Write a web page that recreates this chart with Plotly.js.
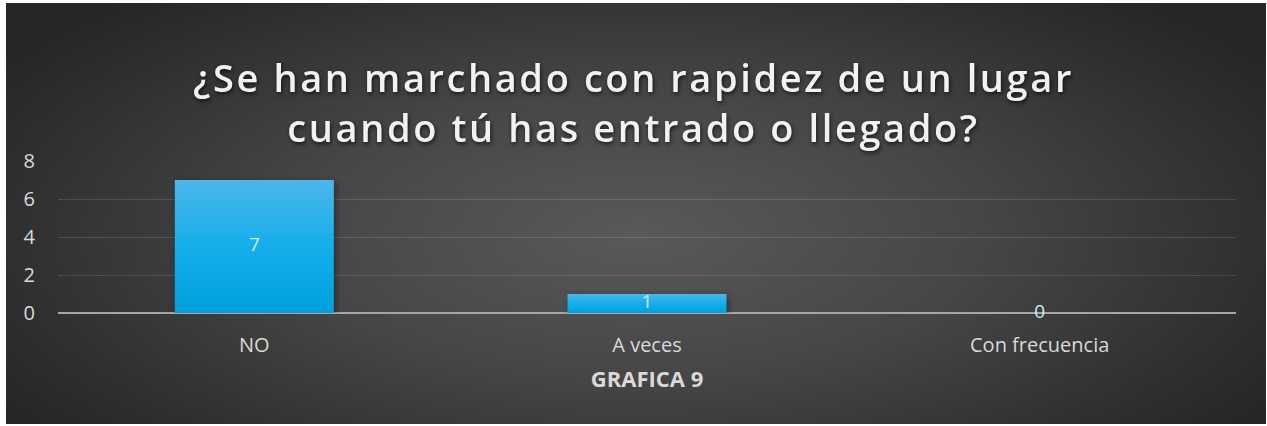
<!DOCTYPE html>
<html>
<head>
<meta charset="utf-8">
<script src="https://cdn.plot.ly/plotly-3.0.1.min.js"></script>
<style>
  html, body { margin: 0; padding: 0; background: #ffffff; }
  #bg {
    position: absolute; left: 6px; top: 3px; width: 1260px; height: 421px;
    background: radial-gradient(ellipse 60% 75% at 50% 55%, #595959 0%, #464646 45%, #2e2e2e 85%, #262626 100%);
  }
  #chart { position: absolute; left: 0; top: 0; width: 1267px; height: 426px; }
  .gtitle { letter-spacing: 2.6px; filter: drop-shadow(1px 2px 2px rgba(0,0,0,0.65)); }
</style>
</head>
<body>
<div id="bg"></div>
<div id="chart"></div>
<script>
const categories = ["NO", "A veces", "Con frecuencia"];
const values = [7, 1, 0];
const yTicks = [0, 2, 4, 6, 8];
const chartTitle = "¿Se han marchado con rapidez de un lugar<br>cuando tú has entrado o llegado?";
const xTitle = "GRAFICA 9";

const FONT = "Open Sans, Noto Sans, sans-serif";

const barTrace = {
  type: "bar",
  x: categories,
  y: values,
  width: 0.405,
  marker: { color: "#1aabe5", line: { width: 0 } },
  hoverinfo: "skip",
  showlegend: false
};

const labelTrace = {
  type: "scatter",
  mode: "text",
  x: categories,
  y: values.map(v => v / 2),
  text: values.map(v => String(v)),
  textposition: "middle center",
  textfont: { family: FONT, size: 19, color: "#cfe9f7" },
  hoverinfo: "skip",
  showlegend: false,
  cliponaxis: false
};

const layout = {
  width: 1267,
  height: 426,
  paper_bgcolor: "rgba(0,0,0,0)",
  plot_bgcolor: "rgba(0,0,0,0)",
  margin: { l: 58, r: 31, t: 161, b: 113 },
  font: { family: FONT, color: "#d9d9d9", size: 20 },
  title: {
    text: chartTitle,
    font: { family: FONT, size: 38, color: "#f2f2f2", weight: 600 },
    x: 0.5,
    xanchor: "center",
    y: 0.783,
    yanchor: "middle"
  },
  xaxis: {
    type: "category",
    range: [-0.5, 2.5],
    showgrid: false,
    showline: false,
    zeroline: false,
    ticks: "",
    ticklabelstandoff: 18,
    tickfont: { family: FONT, size: 20, color: "#d9d9d9" },
    title: {
      text: "<b>" + xTitle + "</b>",
      font: { family: FONT, size: 22, color: "#d9d9d9" },
      standoff: 14
    },
    fixedrange: true
  },
  yaxis: {
    range: [0, 8],
    tickvals: yTicks,
    ticktext: yTicks.map(String),
    showgrid: true,
    gridcolor: "rgba(255,255,255,0.13)",
    gridwidth: 1,
    zeroline: true,
    zerolinecolor: "#a6a6a6",
    zerolinewidth: 2,
    showline: false,
    ticks: "",
    ticklabelstandoff: 22,
    tickfont: { family: FONT, size: 20, color: "#d9d9d9" },
    fixedrange: true
  },
  bargap: 0.6
};

Plotly.newPlot("chart", [barTrace, labelTrace], layout, { displayModeBar: false, staticPlot: true }).then(gd => {
  const svg = gd.querySelector("svg.main-svg");
  const NS = "http://www.w3.org/2000/svg";
  let defs = svg.querySelector("defs");
  if (!defs) { defs = document.createElementNS(NS, "defs"); svg.insertBefore(defs, svg.firstChild); }
  const grad = document.createElementNS(NS, "linearGradient");
  grad.setAttribute("id", "barGrad");
  grad.setAttribute("x1", "0"); grad.setAttribute("y1", "0");
  grad.setAttribute("x2", "0"); grad.setAttribute("y2", "1");
  [["0", "#4cb7ea"], ["0.5", "#14aeeb"], ["1", "#00a0dd"]].forEach(([o, c]) => {
    const s = document.createElementNS(NS, "stop");
    s.setAttribute("offset", o); s.setAttribute("stop-color", c);
    grad.appendChild(s);
  });
  defs.appendChild(grad);
  gd.querySelectorAll(".barlayer .point path").forEach(p => {
    p.style.fill = "url(#barGrad)";
    p.style.filter = "drop-shadow(2px 2px 3px rgba(0,0,0,0.4))";
  });
});
</script>
</body>
</html>
